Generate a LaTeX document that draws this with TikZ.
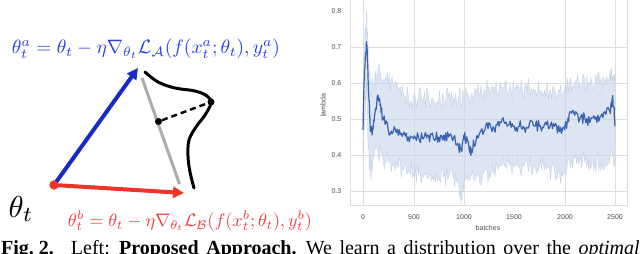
\documentclass[tikz,border=0pt]{standalone}
\usepackage{graphicx}
\usepackage{fontspec}
\setmainfont{Liberation Serif}
\newfontfamily\plotfont{Liberation Sans}
\usetikzlibrary{arrows.meta}
\definecolor{arrblue}{RGB}{22,42,200}
\definecolor{txtblue}{RGB}{40,60,235}
\definecolor{arrred}{RGB}{236,52,40}
\definecolor{txtred}{RGB}{240,62,62}
\definecolor{gridc}{RGB}{222,222,222}
\definecolor{meanc}{RGB}{59,98,173}
\definecolor{bandc}{RGB}{200,212,234}
\definecolor{bandedge}{RGB}{190,204,230}
\tikzset{
  vecarrow/.style={line width=4pt,-{Triangle[length=11pt,width=11pt]}},
  dotnode/.style={circle,fill=black,inner sep=0pt,minimum size=7pt},
  gridline/.style={gridc,line width=0.9pt},
  ticklab/.style={font=\plotfont\fontsize{7}{8}\selectfont,text=black!70,inner sep=0pt},
  meanline/.style={meanc,line width=1.2pt,line join=round},
}
\begin{document}
\begin{tikzpicture}[x=1pt,y=-1pt]
\useasboundingbox (0,0) rectangle (640,254);
\fill[white] (0,0) rectangle (640,254);
% ---------------- left diagram ----------------
\node[circle,fill=arrred,inner sep=0pt,minimum size=9pt] (O) at (54,185) {};
\coordinate (A) at (138,68);
\coordinate (B) at (184,193);
\coordinate (G1) at (142,78);
\coordinate (G2) at (179.5,184);
\draw[gray!65,line width=3pt] (G1) -- (G2);
\draw[black,line width=3pt,line cap=round] plot[smooth,tension=0.6] coordinates
  {(145,72) (158,82) (175,88) (195,91) (207,96) (211,103) (205,115) (196,127) (189,140) (188,156) (190,172) (194,188)};
\node[dotnode] (D1) at (158.5,121.5) {};
\node[dotnode] (D2) at (211,102) {};
\draw[black,line width=2.4pt,dash pattern=on 6pt off 4pt] (D1) -- (D2);
\draw[vecarrow,arrblue] (O.center) -- (A);
\draw[vecarrow,arrred] (O.center) -- (B);
\node[circle,fill=arrred,inner sep=0pt,minimum size=9pt] at (O) {};
\node[inner sep=0pt] (th) at (21,209) {\resizebox{25pt}{!}{$\theta_t$}};
\node[inner sep=0pt,text=txtblue] (fa) at (146,49) {\resizebox{268pt}{!}{$\theta^a_t=\theta_t-\eta\nabla_{\theta_t}\mathcal{L}_{\mathcal{A}}(f(x^a_t;\theta_t),y^a_t)$}};
\node[inner sep=0pt,text=txtred] (fb) at (190,221) {\resizebox{244pt}{!}{$\theta^b_t=\theta_t-\eta\nabla_{\theta_t}\mathcal{L}_{\mathcal{B}}(f(x^b_t;\theta_t),y^b_t)$}};
% ---------------- right plot ----------------
\foreach \py in {47,83,119,155,191} \draw[gridline] (350,\py) -- (627,\py);
\foreach \px in {363,414,464,565,615} \draw[gridline] (\px,-5) -- (\px,205);
\draw[gridc,line width=0.9pt] (350,-5) rectangle (627,205);
\begin{scope}[shift={(363pt,-299pt)},x=0.1008pt,y=360pt]
\pgfmathsetseed{4242}
\filldraw[fill=bandc,fill opacity=0.6,draw=bandedge,line width=0.3pt,line join=round]
 (0,0.55) \foreach \x/\y [remember=\x as \px (initially 0), remember=\y as \py (initially 0.55)] in
 {15/0.70, 35/0.80, 50/0.70, 75/0.58, 100/0.60, 150/0.64, 200/0.61, 250/0.60, 300/0.59, 350/0.58, 400/0.57, 450/0.56, 500/0.56, 550/0.56, 600/0.555, 650/0.56, 700/0.55, 750/0.555, 800/0.56, 850/0.56, 900/0.56, 950/0.56, 1000/0.56, 1050/0.56, 1100/0.57, 1150/0.57, 1200/0.58, 1250/0.59, 1300/0.59, 1350/0.58, 1400/0.585, 1450/0.58, 1500/0.58, 1550/0.58, 1600/0.58, 1650/0.585, 1700/0.58, 1750/0.58, 1800/0.58, 1850/0.58, 1900/0.575, 1950/0.575, 2000/0.58, 2050/0.60, 2100/0.60, 2150/0.60, 2200/0.60, 2250/0.595, 2300/0.60, 2350/0.60, 2400/0.61, 2450/0.635, 2480/0.62, 2500/0.60}
 { -- ({\px+0.2*(\x-\px)},{\py+0.2*(\y-\py)+0.03*rand}) -- ({\px+0.4*(\x-\px)},{\py+0.4*(\y-\py)+0.03*rand}) -- ({\px+0.6*(\x-\px)},{\py+0.6*(\y-\py)+0.03*rand}) -- ({\px+0.8*(\x-\px)},{\py+0.8*(\y-\py)+0.03*rand}) -- (\x,\y) }
 -- (2500,0.38) \foreach \x/\y [remember=\x as \px (initially 2500), remember=\y as \py (initially 0.38)] in
 {2450/0.39, 2400/0.37, 2350/0.38, 2300/0.38, 2250/0.385, 2200/0.38, 2150/0.38, 2100/0.39, 2050/0.38, 2000/0.35, 1950/0.35, 1900/0.355, 1850/0.36, 1800/0.36, 1750/0.37, 1700/0.37, 1650/0.37, 1600/0.37, 1550/0.37, 1500/0.37, 1450/0.37, 1400/0.37, 1350/0.37, 1300/0.36, 1250/0.35, 1200/0.35, 1150/0.34, 1100/0.33, 1050/0.33, 1000/0.32, 975/0.28, 950/0.32, 900/0.34, 850/0.34, 800/0.34, 750/0.335, 700/0.33, 650/0.335, 600/0.34, 550/0.345, 500/0.35, 450/0.36, 400/0.36, 350/0.365, 300/0.37, 250/0.38, 200/0.39, 150/0.41, 100/0.39, 75/0.35, 50/0.42, 35/0.62, 20/0.50, 0/0.38}
 { -- ({\px+0.2*(\x-\px)},{\py+0.2*(\y-\py)+0.03*rand}) -- ({\px+0.4*(\x-\px)},{\py+0.4*(\y-\py)+0.03*rand}) -- ({\px+0.6*(\x-\px)},{\py+0.6*(\y-\py)+0.03*rand}) -- ({\px+0.8*(\x-\px)},{\py+0.8*(\y-\py)+0.03*rand}) -- (\x,\y) }
 -- cycle;
\draw[meanline]
 (0,0.47) \foreach \x/\y [remember=\x as \px (initially 0), remember=\y as \py (initially 0.47)] in
 {10/0.60, 25/0.68, 35/0.715, 45/0.66, 60/0.55, 75/0.465, 100/0.47, 125/0.53, 150/0.565, 175/0.54, 200/0.50, 250/0.47, 300/0.465, 350/0.455, 400/0.46, 450/0.45, 500/0.445, 550/0.45, 600/0.445, 650/0.455, 700/0.445, 750/0.45, 800/0.455, 850/0.45, 900/0.45, 950/0.42, 975/0.41, 1000/0.455, 1025/0.44, 1050/0.425, 1075/0.41, 1100/0.43, 1150/0.455, 1200/0.465, 1250/0.49, 1300/0.475, 1350/0.48, 1400/0.49, 1450/0.485, 1500/0.48, 1550/0.48, 1600/0.475, 1650/0.485, 1700/0.48, 1750/0.48, 1800/0.485, 1850/0.475, 1900/0.48, 1950/0.465, 2000/0.47, 2025/0.49, 2050/0.52, 2100/0.51, 2150/0.50, 2200/0.505, 2250/0.49, 2300/0.50, 2350/0.505, 2400/0.52, 2450/0.52, 2475/0.56, 2490/0.53, 2500/0.48}
 { -- ({\px+0.2*(\x-\px)},{\py+0.2*(\y-\py)+0.016*rand}) -- ({\px+0.4*(\x-\px)},{\py+0.4*(\y-\py)+0.016*rand}) -- ({\px+0.6*(\x-\px)},{\py+0.6*(\y-\py)+0.016*rand}) -- ({\px+0.8*(\x-\px)},{\py+0.8*(\y-\py)+0.016*rand}) -- (\x,\y) };
\end{scope}
% tick labels
\foreach \py/\lab in {11/0.8,47/0.7,83/0.6,119/0.5,155/0.4,191/0.3}
  \node[ticklab,anchor=east] at (341.5,\py) {\lab};
\foreach \px/\lab in {363/0,414/500,464/1000,514/1500,565/2000,615/2500}
  \node[ticklab] at (\px,217) {\lab};
\node[ticklab] (xl) at (488,228) {batches};
\node[ticklab,rotate=90] (yl) at (323,105.5) {lambda};
% caption
\node[anchor=base west,inner sep=0pt,font=\fontsize{20}{24}\selectfont] (cap) at (1,254.5)
  {\spaceskip=7.6pt plus 0pt\relax\textbf{Fig.\kern5pt2.}\hspace{17pt}Left: \textbf{Proposed Approach.} We learn a distribution over the \textit{optimal}};
\end{tikzpicture}
\end{document}
